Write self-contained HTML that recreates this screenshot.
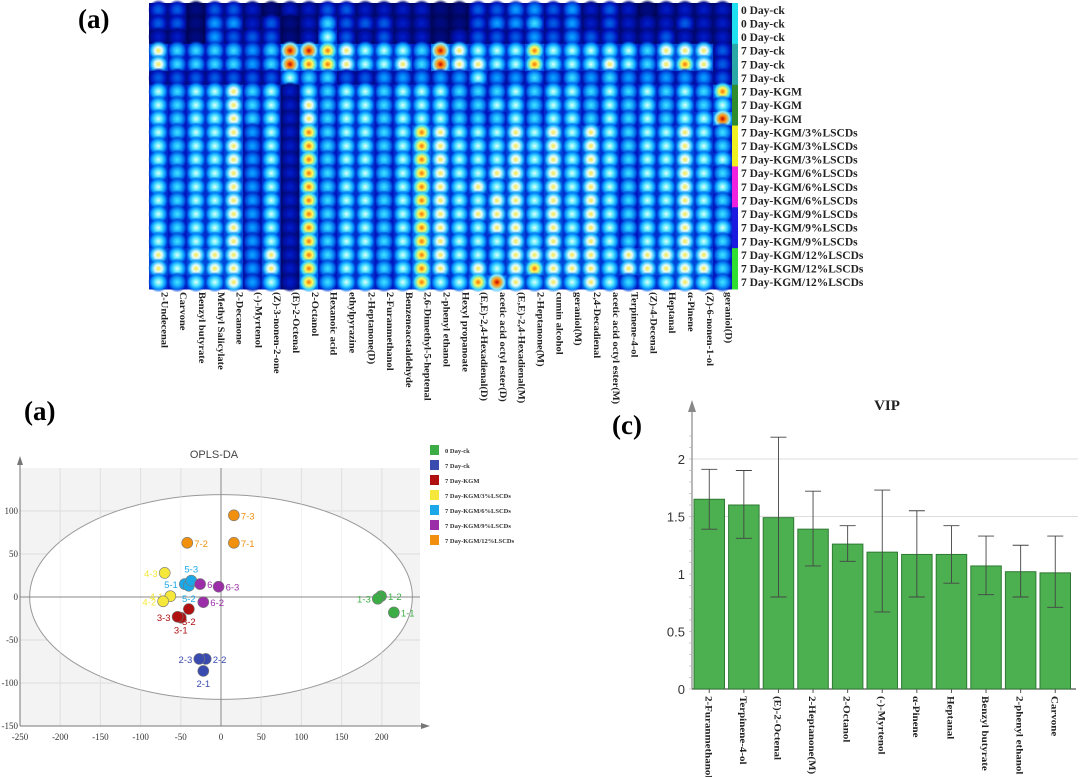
<!DOCTYPE html>
<html><head><meta charset="utf-8">
<style>
html,body{margin:0;padding:0;background:#fff;}
body{width:1080px;height:777px;overflow:hidden;position:relative;font-family:"Liberation Serif",serif;}
svg{position:absolute;left:0;top:0;}
</style></head>
<body>
<svg id="fig" width="1080" height="777" viewBox="0 0 1080 777" xmlns="http://www.w3.org/2000/svg">
<defs id="defs"></defs>
<text x="78" y="28" font-family="Liberation Serif" font-weight="bold" font-size="27">(a)</text>
<g id="heat"></g>
<text x="24" y="420" font-family="Liberation Serif" font-weight="bold" font-size="27">(a)</text>
<g id="scatter"></g>
<text x="612" y="434" font-family="Liberation Serif" font-weight="bold" font-size="27">(c)</text>
<g id="vip"></g>
</svg>
<script>
// ---------- Heatmap data ----------
const heatCompounds = ["2-Undecenal","Carvone","Benzyl butyrate","Methyl Salicylate","2-Decanone","(-)-Myrtenol","(Z)-3-nonen-2-one","(E)-2-Octenal","2-Octanol","Hexanoic acid","ethylpyrazine","2-Heptanone(D)","2-Furanmethanol","Benzeneacetaldehyde","2,6-Dimethyl-5-heptenal","2-phenyl ethanol","Hexyl propanoate","(E,E)-2,4-Hexadienal(D)","acetic acid octyl ester(D)","(E,E)-2,4-Hexadienal(M)","2-Heptanone(M)","cumin alcohol","geraniol(M)","2,4-Decadienal","acetic acid octyl ester(M)","Terpinene-4-ol","(Z)-4-Decenal","Heptanal","α-Pinene","(Z)-6-nonen-1-ol","geraniol(D)"];
const heatSamples = ["0 Day-ck","0 Day-ck","0 Day-ck","7 Day-ck","7 Day-ck","7 Day-ck","7 Day-KGM","7 Day-KGM","7 Day-KGM","7 Day-KGM/3%LSCDs","7 Day-KGM/3%LSCDs","7 Day-KGM/3%LSCDs","7 Day-KGM/6%LSCDs","7 Day-KGM/6%LSCDs","7 Day-KGM/6%LSCDs","7 Day-KGM/9%LSCDs","7 Day-KGM/9%LSCDs","7 Day-KGM/9%LSCDs","7 Day-KGM/12%LSCDs","7 Day-KGM/12%LSCDs","7 Day-KGM/12%LSCDs"];
const heatGroupColors = ["#1ee0f0","#2aa8a8","#2e8b2e","#f0f020","#f020e0","#1a1ae0","#30e030"];
const heatValues = [
"3313321223322221133443423212222",
"3314423125333221134453423222322",
"2214333126323221233343433223222",
"7555545998766659766686666657773",
"7555545988766759776686667657873",
"3333333655334444464454545444443",
"6566756265665666555656656565658",
"6566756275665666556656656565656",
"6566756275665666555656656565669",
"6566746285665687666767676566765",
"6566746285665687666767676566765",
"6566746285665687666767676566766",
"6566746285665687667767676566765",
"6566746285665687676767676566766",
"6566746285665687667767676566765",
"6566746285665687677767676566765",
"6566746285665687667767676566766",
"6566746285665687666767676566765",
"7677747285665687666777776777775",
"7677747285665687676787776777775",
"6566746285665686689767676566765"
];
// ---------- Scatter data ----------
const scatterGroups = ["0 Day-ck","7 Day-ck","7 Day-KGM","7 Day-KGM/3%LSCDs","7 Day-KGM/6%LSCDs","7 Day-KGM/9%LSCDs","7 Day-KGM/12%LSCDs"];
const scatterColors = ["#3cad45","#3a4bb0","#b01010","#f5e83a","#1aa8e8","#9b2ea8","#f0900e"];
const pointLabels = ["1-1","1-2","1-3","2-1","2-2","2-3","3-1","3-2","3-3","4-1","4-2","4-3","5-1","5-2","5-3","6-1","6-2","6-3","7-1","7-2","7-3"];
const pointGroup = [0,0,0,1,1,1,2,2,2,3,3,3,4,4,4,5,5,5,6,6,6];
const pointX = [215,199,195,-22,-19,-27,-50,-40,-54,-63,-72,-70,-45,-40,-37,-26,-22,-3,16,-42,16];
const pointY = [-18,1,-2,-86,-72,-72,-24,-14,-23,1,-5,28,15,13,19,15,-6,12,63,63,95];
const labelSide = ["r","r","l","b","r","l","b","b","l","l","l","l","l","b","t","r","r","r","r","r","r"];
const xTicks = [-250,-200,-150,-100,-50,0,50,100,150,200];
const yTicks = [-150,-100,-50,0,50,100];
// ---------- VIP data ----------
const vipNames = ["2-Furanmethanol","Terpinene-4-ol","(E)-2-Octenal","2-Heptanone(M)","2-Octanol","(-)-Myrtenol","α-Pinene","Heptanal","Benzyl butyrate","2-phenyl ethanol","Carvone"];
const vipValues = [1.65,1.60,1.49,1.39,1.26,1.19,1.17,1.17,1.07,1.02,1.01];
const vipHigh = [1.91,1.90,2.19,1.72,1.42,1.73,1.55,1.42,1.33,1.25,1.33];
const vipLow = [1.39,1.31,0.80,1.07,1.11,0.67,0.80,0.92,0.82,0.80,0.71];
const vipTicks = [0,0.5,1,1.5,2];

const NS="http://www.w3.org/2000/svg";
function mk(tag,attrs,parent){const e=document.createElementNS(NS,tag);for(const k in attrs)e.setAttribute(k,attrs[k]);if(parent)parent.appendChild(e);return e;}

const stops=[[0,[0,0,60]],[0.2,[0,20,190]],[0.4,[0,140,255]],[0.55,[60,225,255]],[0.66,[225,255,255]],[0.76,[255,250,80]],[0.88,[255,120,0]],[1,[200,0,0]]];
function pal(t){t=Math.max(0,Math.min(1,t));for(let i=1;i<stops.length;i++){if(t<=stops[i][0]){const a=stops[i-1],b=stops[i];const f=(t-a[0])/(b[0]-a[0]);const c=a[1].map((v,j)=>Math.round(v+(b[1][j]-v)*f));return `rgb(${c.join(',')})`;}}return 'rgb(200,0,0)';}

const defs=document.getElementById('defs');
for(let v=0;v<=9;v++){
  const g=mk('radialGradient',{id:'hg'+v,cx:'50%',cy:'50%',r:'50%'},defs);
  mk('stop',{offset:'0%','stop-color':pal(v/9)},g);
  mk('stop',{offset:'35%','stop-color':pal(v/9*0.85)},g);
  mk('stop',{offset:'70%','stop-color':pal(v/9*0.6)},g);
  mk('stop',{offset:'100%','stop-color':pal(v/9*0.4),'stop-opacity':'0'},g);
}

(function(){
  const g=document.getElementById('heat');
  const x0=149,x1=732,y0=3,y1=289;
  const nC=heatCompounds.length,nR=heatSamples.length;
  const cw=(x1-x0)/nC,rh=(y1-y0)/nR;
  const colX=i=>x0+i*cw, rowY=j=>y0+j*rh;
  for(let j=0;j<nR;j++){
    for(let i=0;i<nC;i++){
      const v=+heatValues[j][i];
      const r=mk('rect',{x:colX(i),y:rowY(j),width:cw+0.5,height:rh+0.5,fill:pal(v/9*0.36)},g);
      
      
      const e=mk('ellipse',{cx:colX(i)+cw/2,cy:rowY(j)+rh/2,rx:cw*0.55,ry:rh*0.75,fill:'url(#hg'+v+')'},g);
      
      
    }
  }
  for(let j=0;j<nR;j++){
    const b=mk('rect',{x:732,y:rowY(j),width:6,height:rh+0.5,fill:heatGroupColors[Math.floor(j/3)]},g);
    
    
    const t=mk('text',{x:741,y:rowY(j)+rh/2+4,'font-size':'11.5','font-weight':'bold','font-family':'Liberation Serif',fill:'#222'},g);
    t.textContent=heatSamples[j];
    
    
  }
  for(let i=0;i<nC;i++){
    const cx=colX(i)+cw/2+3;
    const t=mk('text',{x:0,y:0,transform:`translate(${cx},292) rotate(90) scale(1,0.85)`,'font-size':'10.5','font-weight':'bold','font-family':'Liberation Serif',fill:'#222'},g);
    t.textContent=heatCompounds[i];
    
    
  }
})();

(function(){
  const g=document.getElementById('scatter');
  const sx=v=>221+v*0.804, sy=v=>597-v*0.86;
  const L=sx(-250),R=420,T=468,B=sy(-150);
  mk('rect',{x:L,y:T,width:R-L,height:B-T,fill:'#f3f3f3'},g);
  xTicks.forEach(v=>{mk('line',{x1:sx(v),x2:sx(v),y1:T,y2:B,stroke:'#dcdcdc','stroke-width':1},g);});
  yTicks.forEach(v=>{mk('line',{x1:L,x2:R,y1:sy(v),y2:sy(v),stroke:'#dcdcdc','stroke-width':1},g);});
  const el=mk('ellipse',{cx:sx(0),cy:sy(0),rx:238*0.804,ry:119*0.86,fill:'#fff',stroke:'#999','stroke-width':1},g);
  
  
  xTicks.forEach(v=>{mk('line',{x1:sx(v),x2:sx(v),y1:T,y2:B,stroke:'#e6e6e6','stroke-width':0.8,'stroke-opacity':0.6},g);});
  mk('line',{x1:L,x2:R,y1:sy(0),y2:sy(0),stroke:'#888','stroke-width':1},g);
  mk('line',{x1:sx(0),x2:sx(0),y1:T,y2:B,stroke:'#888','stroke-width':1},g);
  mk('line',{x1:L,x2:R+4,y1:B,y2:B,stroke:'#777','stroke-width':1},g);
  mk('line',{x1:L,x2:L,y1:T-8,y2:B,stroke:'#777','stroke-width':1},g);
  mk('path',{d:`M${R+10},${B} l-9,-3 v6 z`,fill:'#777'},g);
  mk('path',{d:`M${L},${T-12} l-3,9 h6 z`,fill:'#777'},g);
  xTicks.forEach(v=>{
    const t=mk('text',{x:sx(v),y:B+14,'font-size':'9','text-anchor':'middle','font-family':'Liberation Serif',fill:'#333'},g);
    t.textContent=v;
    
    
  });
  yTicks.forEach(v=>{
    const t=mk('text',{x:L-2,y:sy(v)+3,'font-size':'9','text-anchor':'end','font-family':'Liberation Serif',fill:'#333'},g);
    t.textContent=v;
    
    
  });
  const tt=mk('text',{x:214,y:458,'font-size':'11','text-anchor':'middle','font-family':'Liberation Sans',fill:'#444'},g);
  tt.textContent='OPLS-DA';
  
  
  for(let k=0;k<pointX.length;k++){
    const c=scatterColors[pointGroup[k]];
    const px=sx(pointX[k]),py=sy(pointY[k]);
    const p=mk('circle',{cx:px,cy:py,r:5.5,fill:c,stroke:'#777','stroke-width':0.6},g);
    
    
    const s=labelSide[k];
    let lx=px+7,ly=py+4,anc='start';
    if(s==='l'){lx=px-7;anc='end';}
    if(s==='b'){lx=px;ly=py+16;anc='middle';}
    if(s==='t'){lx=px;ly=py-8;anc='middle';}
    const t=mk('text',{x:lx,y:ly,'font-size':'9.5','text-anchor':anc,'font-family':'Liberation Sans',fill:c},g);
    t.textContent=pointLabels[k];
    
    
  }
  scatterGroups.forEach((n,i)=>{
    const y=446+i*15;
    const r=mk('rect',{x:430,y:y-1,width:9,height:10,fill:scatterColors[i]},g);
    
    
    const t=mk('text',{x:445,y:y+7,'font-size':'6.5','font-weight':'bold','font-family':'Liberation Serif',fill:'#333'},g);
    t.textContent=n;
    
    
  });
})();

(function(){
  const g=document.getElementById('vip');
  const y=v=>689-v*115;
  const ax=692, step=34.6, bw=30.5, bx0=694;
  const bx=i=>bx0+i*step;
  [1.5,2].forEach(v=>mk('line',{x1:ax,x2:1078,y1:y(v),y2:y(v),stroke:'#ddd','stroke-width':1},g));
  mk('line',{x1:ax,x2:ax,y1:406,y2:689,stroke:'#888','stroke-width':1.2},g);
  mk('path',{d:`M${ax},400 l-4,12 h8 z`,fill:'#888'},g);
  mk('line',{x1:ax,x2:1076,y1:689,y2:689,stroke:'#555','stroke-width':1.2},g);
  for(let v=0;v<=2.3;v+=0.1){mk('line',{x1:ax-3,x2:ax,y1:y(v),y2:y(v),stroke:'#aaa','stroke-width':0.6},g);}
  vipTicks.forEach(v=>{
    const t=mk('text',{x:ax-7,y:y(v)+5,'font-size':'13','text-anchor':'end','font-family':'Liberation Sans',fill:'#333'},g);
    t.textContent=v;
    
    
  });
  const tt=mk('text',{x:887,y:410,'font-size':'15','font-weight':'bold','text-anchor':'middle','font-family':'Liberation Serif',fill:'#222'},g);
  tt.textContent='VIP';
  
  
  vipValues.forEach((v,i)=>{
    const b=mk('rect',{x:bx(i),y:y(v),width:bw,height:689-y(v),fill:'#4caf50',stroke:'#2f7a33','stroke-width':1},g);
    
    
    const cx=bx(i)+bw/2;
    mk('line',{x1:cx,x2:cx,y1:y(vipHigh[i]),y2:y(vipLow[i]),stroke:'#444','stroke-width':0.9},g);
    mk('line',{x1:cx-8,x2:cx+8,y1:y(vipHigh[i]),y2:y(vipHigh[i]),stroke:'#444','stroke-width':0.9},g);
    mk('line',{x1:cx-8,x2:cx+8,y1:y(vipLow[i]),y2:y(vipLow[i]),stroke:'#444','stroke-width':0.9},g);
    mk('line',{x1:cx,x2:cx,y1:689,y2:693,stroke:'#555','stroke-width':1},g);
    const t=mk('text',{x:0,y:0,transform:`translate(${cx-4},696) rotate(90) scale(1,0.9)`,'font-size':'11','font-weight':'bold','font-family':'Liberation Serif',fill:'#222'},g);
    t.textContent=vipNames[i];
    
    
  });
})();
</script>
</body></html>
